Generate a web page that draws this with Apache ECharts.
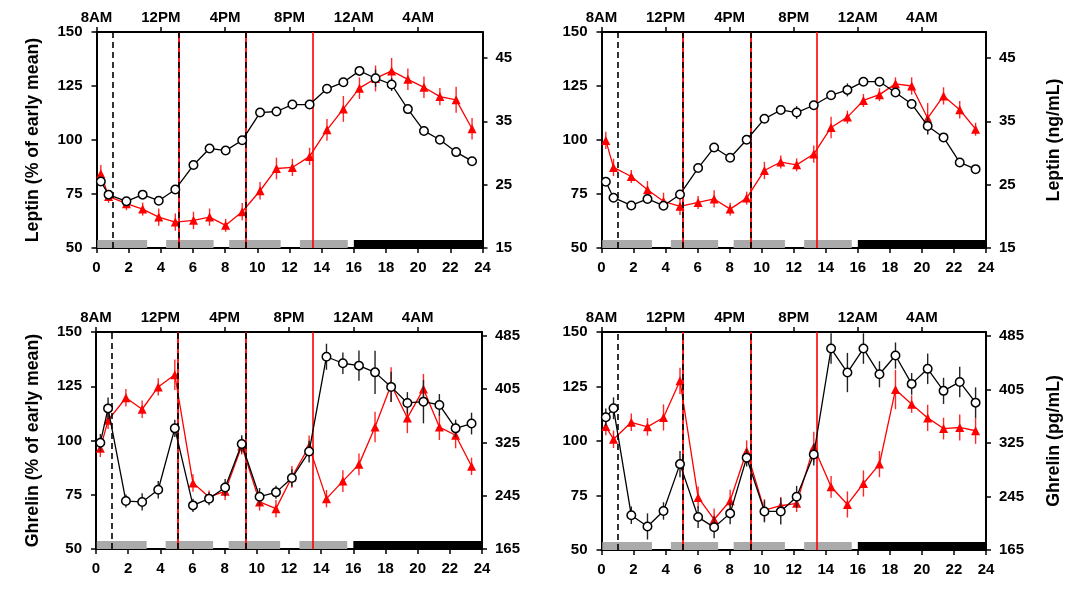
<!DOCTYPE html>
<html><head><meta charset="utf-8">
<script src="https://cdn.jsdelivr.net/npm/echarts@6/dist/echarts.min.js"></script>
<style>html,body{margin:0;padding:0;background:#fff}#c{width:1080px;height:593px}</style>
</head><body><div id="c"></div>
<script>
// ---- data ----
const hours = [0.27,0.75,1.86,2.87,3.87,4.9,6.03,7.03,8.03,9.06,10.17,11.19,12.18,13.25,14.33,15.35,16.35,17.35,18.35,19.36,20.36,21.35,22.36,23.35];
const bottomTicks = [0,2,4,6,8,10,12,14,16,18,20,22,24];
const clockLabels = ['8AM','12PM','4PM','8PM','12AM','4AM'];
const pctTicks = [50,75,100,125,150];
const leptinTicks = [15,25,35,45];
const ghrelinTicks = [165,245,325,405,485];

const leptinA_black = [80.8,74.7,71.6,74.7,71.9,77.1,88.4,96.1,95.1,99.9,112.7,113.2,116.4,116.4,123.7,126.7,132.0,128.6,125.7,114.3,104.2,100.1,94.4,90.2];
const leptinA_blackErr = [2,2,1.5,2,2,2,2,1.5,1.5,1.5,2,2,2,2,2,2,2,4,3,2,2,1.5,2,1.5];
const leptinA_red = [84.4,73.9,70.5,68.0,64.3,62.0,62.8,64.3,60.5,66.8,76.5,86.8,87.3,92.4,104.7,114.4,124.0,128.5,132.0,128.1,124.4,120.1,118.6,105.2];
const leptinA_redErr = [4,3,3,3,4,4,4,4,3,4,4,5,4,4,5,6,5,6,6,5,5,4,6,5];

const leptinB_black = [80.7,73.3,69.7,72.7,69.6,74.8,87.0,96.5,91.8,100.1,109.8,113.9,112.7,116.1,120.7,123.2,127.0,127.0,122.0,116.7,106.5,101.2,89.6,86.5];
const leptinB_blackErr = [2,2,1.5,2,1.5,1.5,1.5,1.5,1.5,1.5,1.5,2,3,2,2,3,2,1.5,1.5,2,4,2,1.5,1.5];
const leptinB_red = [99.8,87.3,83.1,77.0,71.6,69.3,71.1,72.7,68.0,73.1,85.9,89.8,88.5,93.5,105.8,110.6,118.3,121.0,126.0,125.0,110.1,120.4,114.0,105.0];
const leptinB_redErr = [4,4,3,4,4,4,3,4,3,3,4,3,3,4,5,3,3,3,3,4,7,4,4,3];

const ghrelinA_black = [99.0,114.8,72.1,71.7,77.3,105.6,70.1,73.2,78.3,98.4,74.1,76.1,82.7,94.9,138.6,135.6,134.5,131.4,124.7,117.3,117.9,116.4,105.6,107.8];
const ghrelinA_blackErr = [4,5,3,4,4,4,3,3,4,4,4,3,4,5,6,5,7,10,7,5,10,5,4,5];
const ghrelinA_red = [96.4,109.3,119.7,114.4,124.7,130.3,80.4,74.0,76.6,97.5,71.7,68.6,83.2,97.3,73.2,81.3,89.0,106.2,125.7,110.4,123.7,106.2,102.4,88.1];
const ghrelinA_redErr = [4,4,4,4,4,7,4,3,4,4,4,4,5,5,4,5,5,7,8,7,7,6,6,4];

const ghrelinB_black = [110.9,115.0,65.9,60.8,67.9,89.4,65.1,60.4,66.8,92.3,67.7,67.7,74.4,93.8,142.4,131.4,142.4,130.6,139.2,126.2,133.1,123.0,127.1,117.6];
const ghrelinB_blackErr = [4,5,4,6,4,6,5,5,5,4,5,6,5,5,7,9,7,6,6,5,7,6,7,7];
const ghrelinB_red = [106.6,100.8,108.6,106.5,110.8,127.6,74.1,64.0,72.6,95.3,68.3,70.3,71.4,97.3,79.0,70.9,80.5,89.4,123.6,116.9,110.6,105.7,106.2,104.7];
const ghrelinB_redErr = [4,4,4,4,6,6,5,5,5,5,5,4,4,7,5,6,6,6,9,4,6,5,6,6];

const blackDashedEvents = [1];
const mixedEvents = [5.1, 9.3];
const redEvents = [13.45];
const mealBars = [[0.05,3.15],[4.33,7.28],[8.25,11.45],[12.65,15.62]];
const sleepBars = [[16,24]];

// ---- layout ----
const FONT = "'Liberation Sans', Arial, sans-serif";
const RED = '#ff0000';
const BAR_H = 3.7;
const panels = [
  {grid:{left:96.5, top:32, width:386, height:216}, leftName:'Leptin (% of early mean)', rightName:'', rMin:15, rMax:49.1, rInt:10, rTicks:leptinTicks,
   black:leptinA_black, blackErr:leptinA_blackErr, red:leptinA_red, redErr:leptinA_redErr},
  {grid:{left:601.5, top:32, width:384.5, height:216}, leftName:'', rightName:'Leptin (ng/mL)', rMin:15, rMax:49.1, rInt:10, rTicks:leptinTicks,
   black:leptinB_black, blackErr:leptinB_blackErr, red:leptinB_red, redErr:leptinB_redErr},
  {grid:{left:96, top:332, width:386, height:217}, leftName:'Ghrelin (% of early mean)', rightName:'', rMin:165, rMax:491, rInt:80, rTicks:ghrelinTicks,
   black:ghrelinA_black, blackErr:ghrelinA_blackErr, red:ghrelinA_red, redErr:ghrelinA_redErr},
  {grid:{left:601.5, top:332, width:384.5, height:218}, leftName:'', rightName:'Ghrelin (pg/mL)', rMin:165, rMax:491, rInt:80, rTicks:ghrelinTicks,
   black:ghrelinB_black, blackErr:ghrelinB_blackErr, red:ghrelinB_red, redErr:ghrelinB_redErr}
];

const axisLineStyle = {show:true, onZero:false, lineStyle:{color:'#000', width:2}};
const tickStyle = {show:true, length:5, lineStyle:{color:'#000', width:1.5}};
const labelStyle = {color:'#000', fontFamily:FONT, fontWeight:'bold', fontSize:15};
const nameStyle = {color:'#000', fontFamily:FONT, fontWeight:'bold', fontSize:17.7};

function errRender(color){
  return function(params, api){
    const x = api.value(0), y = api.value(1), e = api.value(2);
    const p1 = api.coord([x, y - e]), p2 = api.coord([x, y + e]);
    return {type:'line', shape:{x1:p1[0], y1:p1[1], x2:p2[0], y2:p2[1]}, style:{stroke:color, lineWidth:1.4}};
  };
}
function barRender(params, api){
  const s = api.value(0), e = api.value(1), k = api.value(2);
  const p1 = api.coord([s, 50 + BAR_H]), p2 = api.coord([e, 50]);
  return {type:'rect', shape:{x:p1[0], y:p1[1], width:p2[0]-p1[0], height:p2[1]-p1[1]}, style:{fill: k ? '#000' : '#aaaaaa'}};
}

const grids = [], xAxes = [], yAxes = [], series = [];
panels.forEach((p, g) => {
  grids.push(p.grid);
  xAxes.push({type:'value', gridIndex:g, position:'bottom', min:0, max:24, interval:2,
    axisLine:axisLineStyle, axisTick:tickStyle, splitLine:{show:false},
    axisLabel:Object.assign({margin:12, customValues:bottomTicks}, labelStyle)});
  xAxes.push({type:'value', gridIndex:g, position:'top', min:0, max:24, interval:4,
    axisLine:axisLineStyle, axisTick:Object.assign({}, tickStyle, {customValues:[0,4,8,12,16,20]}), splitLine:{show:false},
    axisLabel:Object.assign({margin:7, formatter:v => clockLabels[v/4] || ''}, labelStyle)});
  yAxes.push({type:'value', gridIndex:g, position:'left', min:50, max:150, interval:25,
    axisLine:axisLineStyle, axisTick:tickStyle, splitLine:{show:false},
    axisLabel:Object.assign({margin:14, customValues:pctTicks}, labelStyle),
    name:p.leftName, nameLocation:'middle', nameRotate:90, nameGap:54, nameTextStyle:nameStyle});
  yAxes.push({type:'value', gridIndex:g, position:'right', min:p.rMin, max:p.rMax, interval:p.rInt,
    axisLine:axisLineStyle, axisTick:Object.assign({}, tickStyle, {customValues:p.rTicks}), splitLine:{show:false},
    axisLabel:Object.assign({margin:13, customValues:p.rTicks}, labelStyle),
    name:p.rightName, nameLocation:'middle', nameRotate:90, nameGap:59, nameTextStyle:nameStyle});
  const xi = 2*g, yi = 2*g;
  // bottom bars
  const barData = mealBars.map(b => [b[0], b[1], 0]).concat(sleepBars.map(b => [b[0], b[1], 1]));
  series.push({type:'custom', xAxisIndex:xi, yAxisIndex:yi, renderItem:barRender, data:barData, silent:true, z:1, clip:false, encode:{x:[0,1], y:2}});
  // event lines
  const ml = [];
  blackDashedEvents.forEach(v => ml.push({xAxis:v, lineStyle:{color:'#000', type:[6,4], width:1.6}}));
  mixedEvents.forEach(v => {
    ml.push({xAxis:v, lineStyle:{color:RED, type:'solid', width:1.8}});
    ml.push({xAxis:v, lineStyle:{color:'#000', type:[6,4], width:1.6}});
  });
  redEvents.forEach(v => ml.push({xAxis:v, lineStyle:{color:RED, type:'solid', width:1.6}}));
  series.push({type:'line', xAxisIndex:xi, yAxisIndex:yi, data:[], z:2, silent:true,
    markLine:{silent:true, symbol:['none','none'], label:{show:false}, animation:false, data:ml}});
  // red series
  series.push({type:'custom', xAxisIndex:xi, yAxisIndex:yi, renderItem:errRender('rgba(255,0,0,0.85)'), z:3, silent:true,
    data:hours.map((t,i) => [t, p.red[i], p.redErr[i]]), encode:{x:0, y:1}});
  series.push({type:'line', xAxisIndex:xi, yAxisIndex:yi, z:4, symbol:'triangle', symbolSize:9,
    lineStyle:{color:RED, width:1.3}, itemStyle:{color:RED}, data:hours.map((t,i) => [t, p.red[i]])});
  // black series
  series.push({type:'custom', xAxisIndex:xi, yAxisIndex:yi, renderItem:errRender('#222'), z:5, silent:true,
    data:hours.map((t,i) => [t, p.black[i], p.blackErr[i]]), encode:{x:0, y:1}});
  series.push({type:'line', xAxisIndex:xi, yAxisIndex:yi, z:6, symbol:'circle', symbolSize:8.5,
    lineStyle:{color:'#000', width:1.3}, itemStyle:{color:'#fff', borderColor:'#000', borderWidth:1.5},
    data:hours.map((t,i) => [t, p.black[i]])});
});

const chart = echarts.init(document.getElementById('c'), null, {renderer:'canvas'});
chart.setOption({animation:false, backgroundColor:'#fff', grid:grids, xAxis:xAxes, yAxis:yAxes, series:series});
</script></body></html>
